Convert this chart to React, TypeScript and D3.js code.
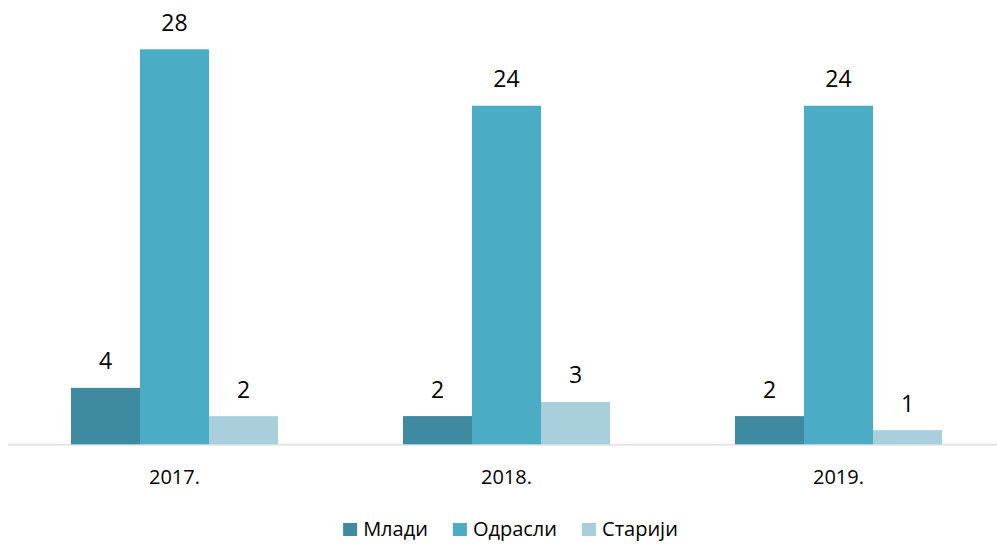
import React, { useEffect, useRef } from 'react';
import * as d3 from 'd3';

const years = ['2017.', '2018.', '2019.'];
const seriesNames = ['Млади', 'Одрасли', 'Старији'];
const mladi = [4, 2, 2];
const odrasli = [28, 24, 24];
const stariji = [2, 3, 1];
const colors = ['#3e8ba1', '#4bacc6', '#a9cfdc'];

const FONT = '"Open Sans", sans-serif';

const App = () => {
  const ref = useRef<SVGSVGElement | null>(null);

  useEffect(() => {
    if (!ref.current) return;
    const svg = d3.select(ref.current);
    svg.selectAll('*').remove();

    const values = [mladi, odrasli, stariji];
    const rows = years.map((year, i) => ({
      year,
      items: seriesNames.map((name, s) => ({ name, s, value: values[s][i] })),
    }));

    // category bands run a bit past the right edge, like the original
    const x = d3.scaleBand().domain(years).range([8.5, 1004.5]).padding(0);
    const xSub = d3.scaleBand()
      .domain(seriesNames)
      .range([0, x.bandwidth()])
      .paddingInner(0)
      .paddingOuter(0.906);
    const y = d3.scaleLinear().domain([0, 28]).range([444.3, 49.3]);

    // baseline
    svg.append('line')
      .attr('x1', 8).attr('x2', 997)
      .attr('y1', 444.8).attr('y2', 444.8)
      .attr('stroke', '#d9d9d9')
      .attr('stroke-width', 1.2);

    const groups = svg.selectAll('.group')
      .data(rows)
      .enter()
      .append('g')
      .attr('class', 'group')
      .attr('transform', d => `translate(${x(d.year)},0)`);

    groups.selectAll('rect')
      .data(d => d.items)
      .enter()
      .append('rect')
      .attr('x', d => xSub(d.name)!)
      .attr('y', d => y(d.value))
      .attr('width', xSub.bandwidth())
      .attr('height', d => y(0) - y(d.value))
      .attr('fill', d => colors[d.s]);

    groups.selectAll('.val')
      .data(d => d.items)
      .enter()
      .append('text')
      .attr('class', 'val')
      .attr('x', d => xSub(d.name)! + xSub.bandwidth() / 2)
      .attr('y', d => y(d.value) - 18.5)
      .attr('text-anchor', 'middle')
      .style('font-family', FONT)
      .style('font-size', '23px')
      .attr('fill', '#000')
      .text(d => d.value);

    // category labels
    svg.selectAll('.cat')
      .data(years)
      .enter()
      .append('text')
      .attr('class', 'cat')
      .attr('x', d => x(d)! + x.bandwidth() / 2)
      .attr('y', 483.5)
      .attr('text-anchor', 'middle')
      .style('font-family', FONT)
      .style('font-size', '20px')
      .attr('fill', '#000')
      .text(d => d);

    // legend, measured then centred
    const legend = svg.append('g');
    const items = legend.selectAll('.leg')
      .data(seriesNames)
      .enter()
      .append('g')
      .attr('class', 'leg');
    items.append('rect')
      .attr('width', 14).attr('height', 13)
      .attr('y', -13)
      .attr('fill', (_, i) => colors[i]);
    items.append('text')
      .attr('x', 20)
      .style('font-family', FONT)
      .style('font-size', '20px')
      .attr('fill', '#000')
      .text(d => d);

    let offset = 0;
    const gap = 25;
    items.each(function () {
      const g = d3.select(this);
      const w = 20 + (g.select('text').node() as SVGTextElement).getComputedTextLength();
      g.attr('transform', `translate(${offset},0)`);
      offset += w + gap;
    });
    const total = offset - gap;
    legend.attr('transform', `translate(${510.5 - total / 2},536)`);
  }, []);

  return (
    <svg
      ref={ref}
      width={997}
      height={544}
      style={{ position: 'absolute', left: 0, top: 0, background: '#fff' }}
    />
  );
};

export default App;
